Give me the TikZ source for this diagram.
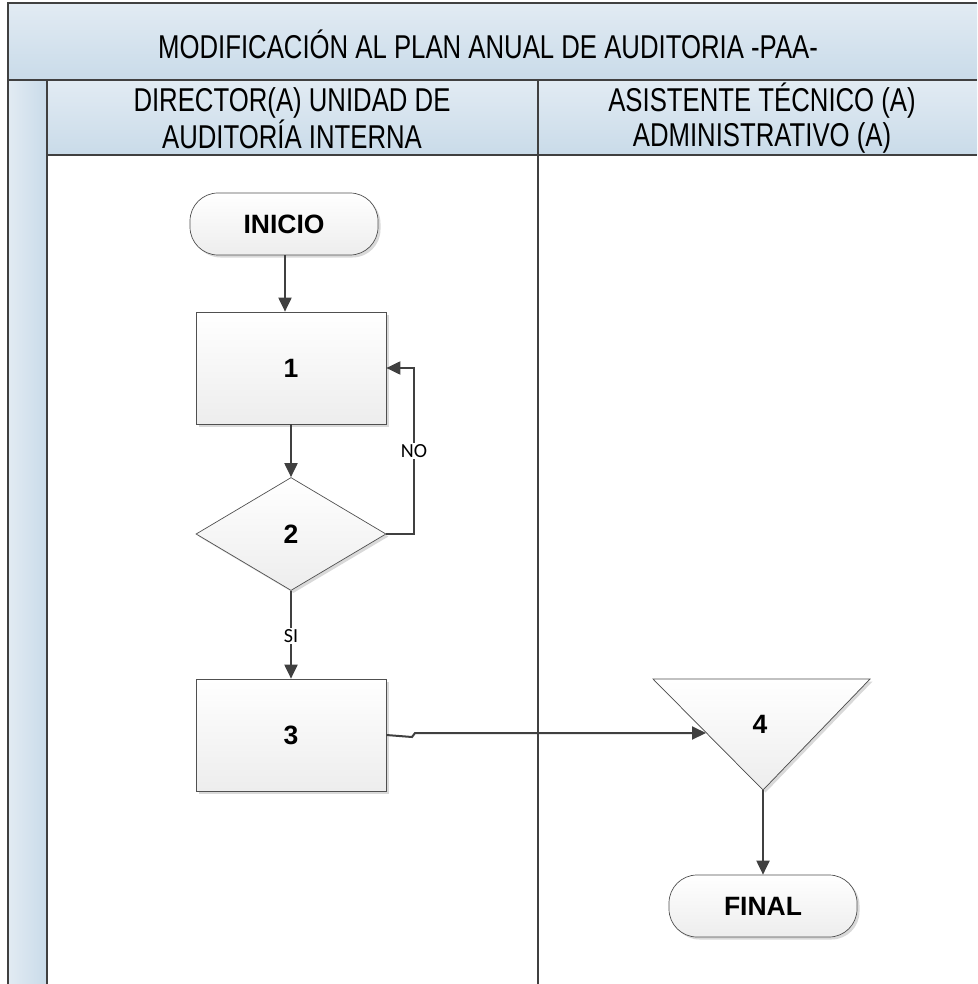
\documentclass[tikz,border=0pt]{standalone}
\usepackage{fontspec}
\setmainfont{Liberation Sans}
\newfontfamily\narrowfont[FakeStretch=0.78]{Liberation Sans}
\newfontfamily\califont{Carlito}
\usetikzlibrary{arrows.meta,shapes.geometric,shadows}
\definecolor{linec}{HTML}{404040}
\definecolor{bordc}{HTML}{505050}
\definecolor{hdrtop}{HTML}{E2EBF3}
\definecolor{hdrbot}{HTML}{C9DBE9}
\definecolor{shapebot}{HTML}{EDEDED}
\tikzset{
  shp/.style={draw=bordc, line width=0.7pt, top color=white, bottom color=shapebot,
     drop shadow={shadow xshift=2.5pt, shadow yshift=-2.5pt, opacity=0.25, fill=black!60}},
  procbox/.style={shp, rectangle, minimum width=190pt, minimum height=112pt, inner sep=0pt,
     font=\fontsize{26.5}{30}\selectfont\bfseries},
  termbox/.style={shp, rectangle, rounded corners=28pt, minimum width=188pt, minimum height=62pt, inner sep=0pt,
     font=\fontsize{26.5}{30}\selectfont\bfseries},
  decbox/.style={shp, diamond, minimum width=190pt, minimum height=113pt, inner sep=0pt,
     font=\fontsize{26.5}{30}\selectfont\bfseries},
  flow/.style={draw=linec, line width=2pt, -{Triangle[length=14pt,width=13pt]}},
  lbl/.style={fill=white, inner sep=1.5pt, font=\califont\fontsize{20}{22}\selectfont},
  hdr/.style={font=\narrowfont\fontsize{33}{35}\selectfont, align=center, text=black},
  frame/.style={draw=linec, line width=2pt},
}
\begin{document}
\begin{tikzpicture}[x=1pt,y=-1pt]
\useasboundingbox (0,0) rectangle (977,984);
% header bands
\shade[top color=hdrtop, bottom color=hdrbot] (8,3) rectangle (977,80);
\shade[top color=hdrtop, bottom color=hdrbot] (47,80) rectangle (977,155);
\shade[left color=hdrtop, right color=hdrbot] (8,80) rectangle (47,984);
% frame lines
\draw[frame] (977,3) -- (8,3) -- (8,984);
\draw[frame] (8,80) -- (977,80);
\draw[frame] (47,155) -- (977,155);
\draw[frame] (47,80) -- (47,984);
\draw[frame] (538,80) -- (538,984);
% header texts
\node[hdr] (title) at (488,44) {MODIFICACIÓN AL PLAN ANUAL DE AUDITORIA -PAA-};
\node[hdr] (lane1) at (292,118) {DIRECTOR(A) UNIDAD DE\\AUDITORÍA INTERNA};
\node[hdr] (lane2) at (762,118) {ASISTENTE TÉCNICO (A)\\ADMINISTRATIVO (A)};
% shapes
\node[termbox] (inicio) at (284,224) {INICIO};
\node[procbox] (p1) at (291,368) {1};
\node[decbox] (d2) at (291,534) {2};
\node[procbox] (p3) at (291,735) {3};
% triangle 4
\fill[shp] (653,679) -- (870,679) -- (763,790) -- cycle;
\coordinate (t4apex) at (763,790);
\coordinate (t4in) at (706,733);
\node[font=\fontsize{26.5}{30}\selectfont\bfseries] (t4) at (760,724) {4};
\node[termbox] (final) at (763,906) {FINAL};
% connectors
\draw[flow] (inicio.south -| 285,0) -- (p1.north -| 285,0);
\draw[flow] (p1.south) -- (d2.north);
\draw[flow] (d2.east) -- (414,534) -- (414,368) -- (p1.east);
\node[lbl] (no) at (414,451) {NO};
\draw[flow] (d2.south) -- (p3.north);
\node[lbl] (si) at (291,636) {SI};
\draw[flow] (p3.east) -- (412,737) -- (415,733) -- (t4in);
\draw[flow] (t4apex) -- (final.north);
\end{tikzpicture}
\end{document}
